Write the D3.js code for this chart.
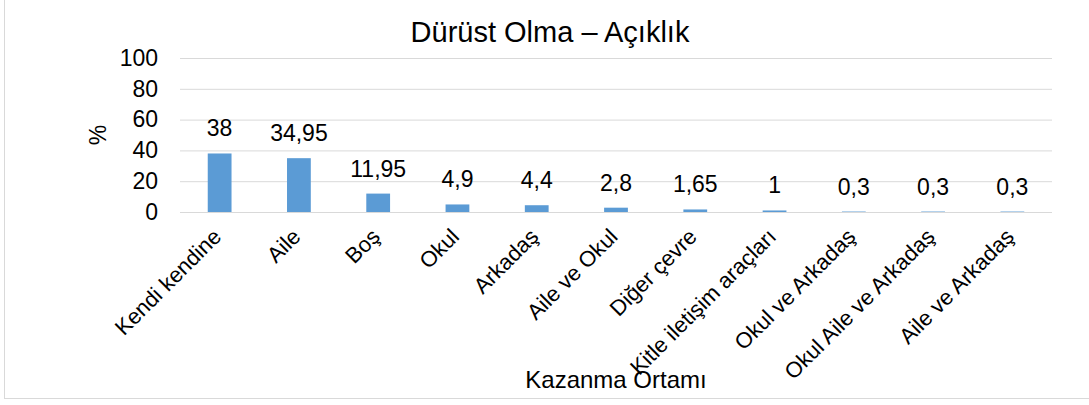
<!DOCTYPE html>
<html>
<head>
<meta charset="utf-8">
<script src="https://cdn.jsdelivr.net/npm/d3@7"></script>
<style>
  body { margin: 0; background: #fff; }
  text { font-family: "Liberation Sans", Arial, sans-serif; fill: #000; }
</style>
</head>
<body>
<svg id="chart" width="1089" height="405"></svg>
<script>
// chart values
var categories = ["Kendi kendine", "Aile", "Boş", "Okul", "Arkadaş", "Aile ve Okul",
                  "Diğer çevre", "Kitle iletişim araçları", "Okul ve Arkadaş",
                  "Okul Aile ve Arkadaş", "Aile ve Arkadaş"];
var values = [38, 34.95, 11.95, 4.9, 4.4, 2.8, 1.65, 1, 0.3, 0.3, 0.3];
var yTicks = [0, 20, 40, 60, 80, 100];

var svg = d3.select("#chart");

// outer frame (left and bottom edges visible)
svg.append("rect")
    .attr("x", 4.5).attr("y", -2)
    .attr("width", 1100).attr("height", 400.5)
    .attr("fill", "none")
    .attr("stroke", "#d9d9d9")
    .attr("stroke-width", 1);

var xScale = d3.scaleBand()
    .domain(categories)
    .range([180, 1052])
    .paddingInner(0.7)
    .paddingOuter(0.35);

var yScale = d3.scaleLinear()
    .domain([0, 100])
    .range([212, 58]);

// gridlines + y labels
var yAxis = d3.axisLeft(yScale)
    .tickValues(yTicks)
    .tickSize(-(1052 - 180))
    .tickPadding(22)
    .tickFormat(d3.format("d"));

var gy = svg.append("g")
    .attr("transform", "translate(180,0)")
    .call(yAxis);
gy.select(".domain").remove();
gy.selectAll(".tick line").attr("stroke", "#d9d9d9").attr("stroke-width", 1);
gy.selectAll(".tick text")
    .style("font-size", "23px")
    .attr("fill", "#000");

// bars
svg.selectAll("rect.bar")
    .data(values)
    .enter().append("rect")
    .attr("class", "bar")
    .attr("x", function(d, i){ return xScale(categories[i]); })
    .attr("width", xScale.bandwidth())
    .attr("y", function(d){ return yScale(d); })
    .attr("height", function(d){ return yScale(0) - yScale(d); })
    .attr("fill", "#5b9bd5");

// value labels
var fmt = function(d){ return String(d).replace(".", ","); };
svg.selectAll("text.val")
    .data(values)
    .enter().append("text")
    .attr("class", "val")
    .attr("x", function(d, i){ return xScale(categories[i]) + xScale.bandwidth() / 2; })
    .attr("y", function(d){ return yScale(d) - 17; })
    .attr("text-anchor", "middle")
    .style("font-size", "23px")
    .text(fmt);

// category labels
var xAxis = d3.axisBottom(xScale).tickSize(0).tickPadding(0);
var gx = svg.append("g")
    .attr("transform", "translate(0,212)")
    .call(xAxis);
gx.select(".domain").remove();
gx.selectAll(".tick text")
    .style("font-size", "22px")
    .attr("fill", "#000")
    .attr("text-anchor", "end")
    .attr("x", 0).attr("y", 0).attr("dy", 0)
    .attr("transform", "translate(3,26) rotate(-45)");

// title
svg.append("text")
    .attr("x", 550).attr("y", 42)
    .attr("text-anchor", "middle")
    .style("font-size", "29px")
    .text("Dürüst Olma – Açıklık");

// axis titles
svg.append("text")
    .attr("transform", "translate(106,135) rotate(-90)")
    .attr("text-anchor", "middle")
    .style("font-size", "23px")
    .text("%");

svg.append("text")
    .attr("x", 616).attr("y", 388)
    .attr("text-anchor", "middle")
    .style("font-size", "24px")
    .text("Kazanma Ortamı");
</script>
</body>
</html>
